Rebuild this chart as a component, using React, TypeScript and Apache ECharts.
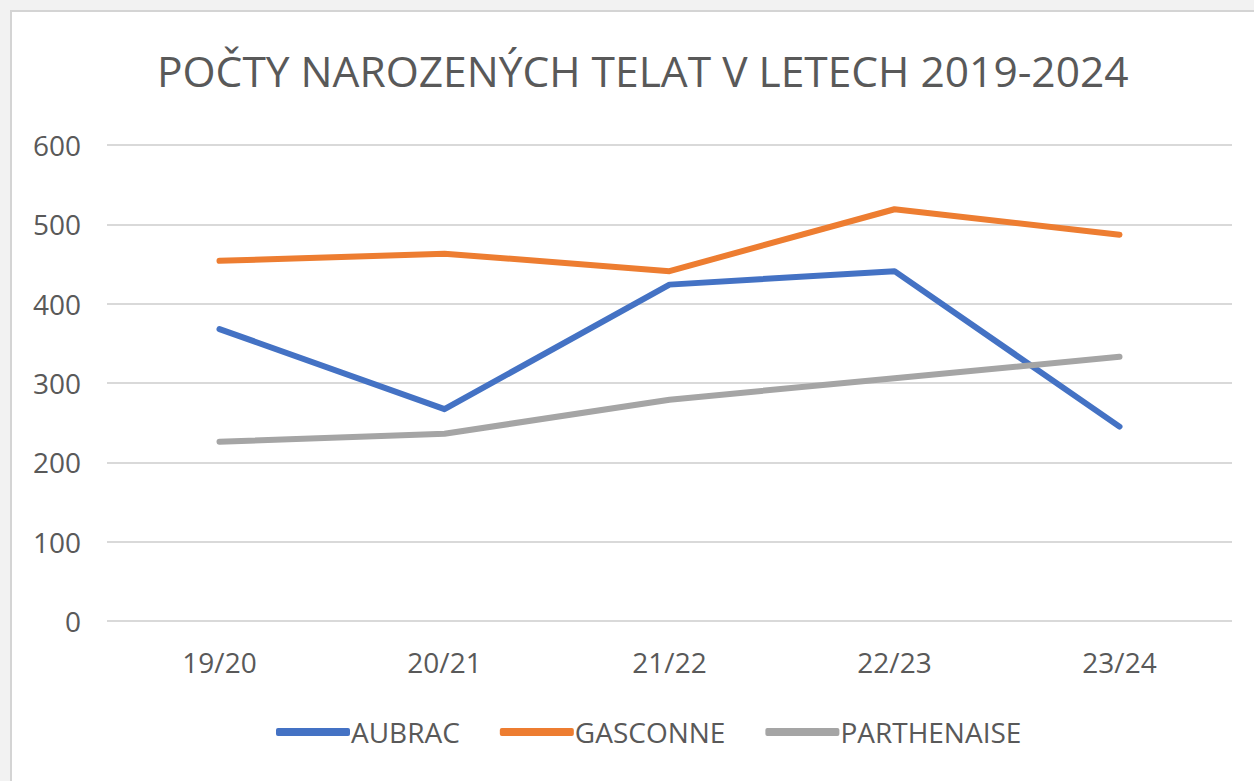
import React, { useEffect, useRef } from "react";
import * as echarts from "echarts";

const categories = ["19/20", "20/21", "21/22", "22/23", "23/24"];
const aubrac = [368, 267, 424, 441, 245];
const gasconne = [454, 463, 441, 519, 487];
const parthenaise = [226, 236, 279, 306, 333];
const seriesNames = ["AUBRAC", "GASCONNE", "PARTHENAISE"];
const titleText = "POČTY NAROZENÝCH TELAT V LETECH 2019-2024";

export default function App() {
  const ref = useRef<HTMLDivElement>(null);
  useEffect(() => {
    document.body.style.margin = "0";
    const chart = echarts.init(ref.current!, null, { renderer: "svg" });
    const font = "'Open Sans', 'Liberation Sans', sans-serif";
    const mk = (name: string, data: number[], color: string) => ({
      name,
      type: "line",
      data,
      symbol: "none",
      lineStyle: { width: 6, color, cap: "round", join: "round" },
      itemStyle: { color },
    });
    chart.setOption({
      animation: false,
      backgroundColor: "#f2f2f2",
      graphic: [
        {
          type: "rect",
          z: -10,
          shape: { x: 11, y: 11, width: 1260, height: 800 },
          style: { fill: "#ffffff", stroke: "#d4d4d4", lineWidth: 2 },
        },
      ],
      title: {
        text: titleText,
        left: 152,
        top: 44,
        textStyle: { fontFamily: font, fontSize: 42.5, fontWeight: "normal", color: "#595959" },
      },
      grid: { left: 107, right: 22, top: 145, bottom: 160 },
      legend: {
        bottom: 30,
        left: 271,
        itemWidth: 74,
        itemHeight: 8,
        itemGap: 40,
        icon: "roundRect",
        textStyle: { fontFamily: font, fontSize: 28, color: "#595959", padding: [0, 0, 0, -4] },
        data: seriesNames,
      },
      xAxis: {
        type: "category",
        data: categories,
        boundaryGap: true,
        axisLine: { show: false },
        axisTick: { show: false },
        axisLabel: { fontFamily: font, fontSize: 28, color: "#595959", margin: 27 },
      },
      yAxis: {
        type: "value",
        min: 0,
        max: 600,
        interval: 100,
        axisLine: { show: false },
        axisTick: { show: false },
        splitLine: { lineStyle: { color: "#d9d9d9", width: 2 } },
        axisLabel: { fontFamily: font, fontSize: 28, color: "#595959", margin: 26 },
      },
      series: [
        mk(seriesNames[0], aubrac, "#4472c4"),
        mk(seriesNames[1], gasconne, "#ed7d31"),
        mk(seriesNames[2], parthenaise, "#a5a5a5"),
      ],
    });
    return () => chart.dispose();
  }, []);
  return <div ref={ref} style={{ width: 1254, height: 781, position: "absolute", left: 0, top: 0 }} />;
}
